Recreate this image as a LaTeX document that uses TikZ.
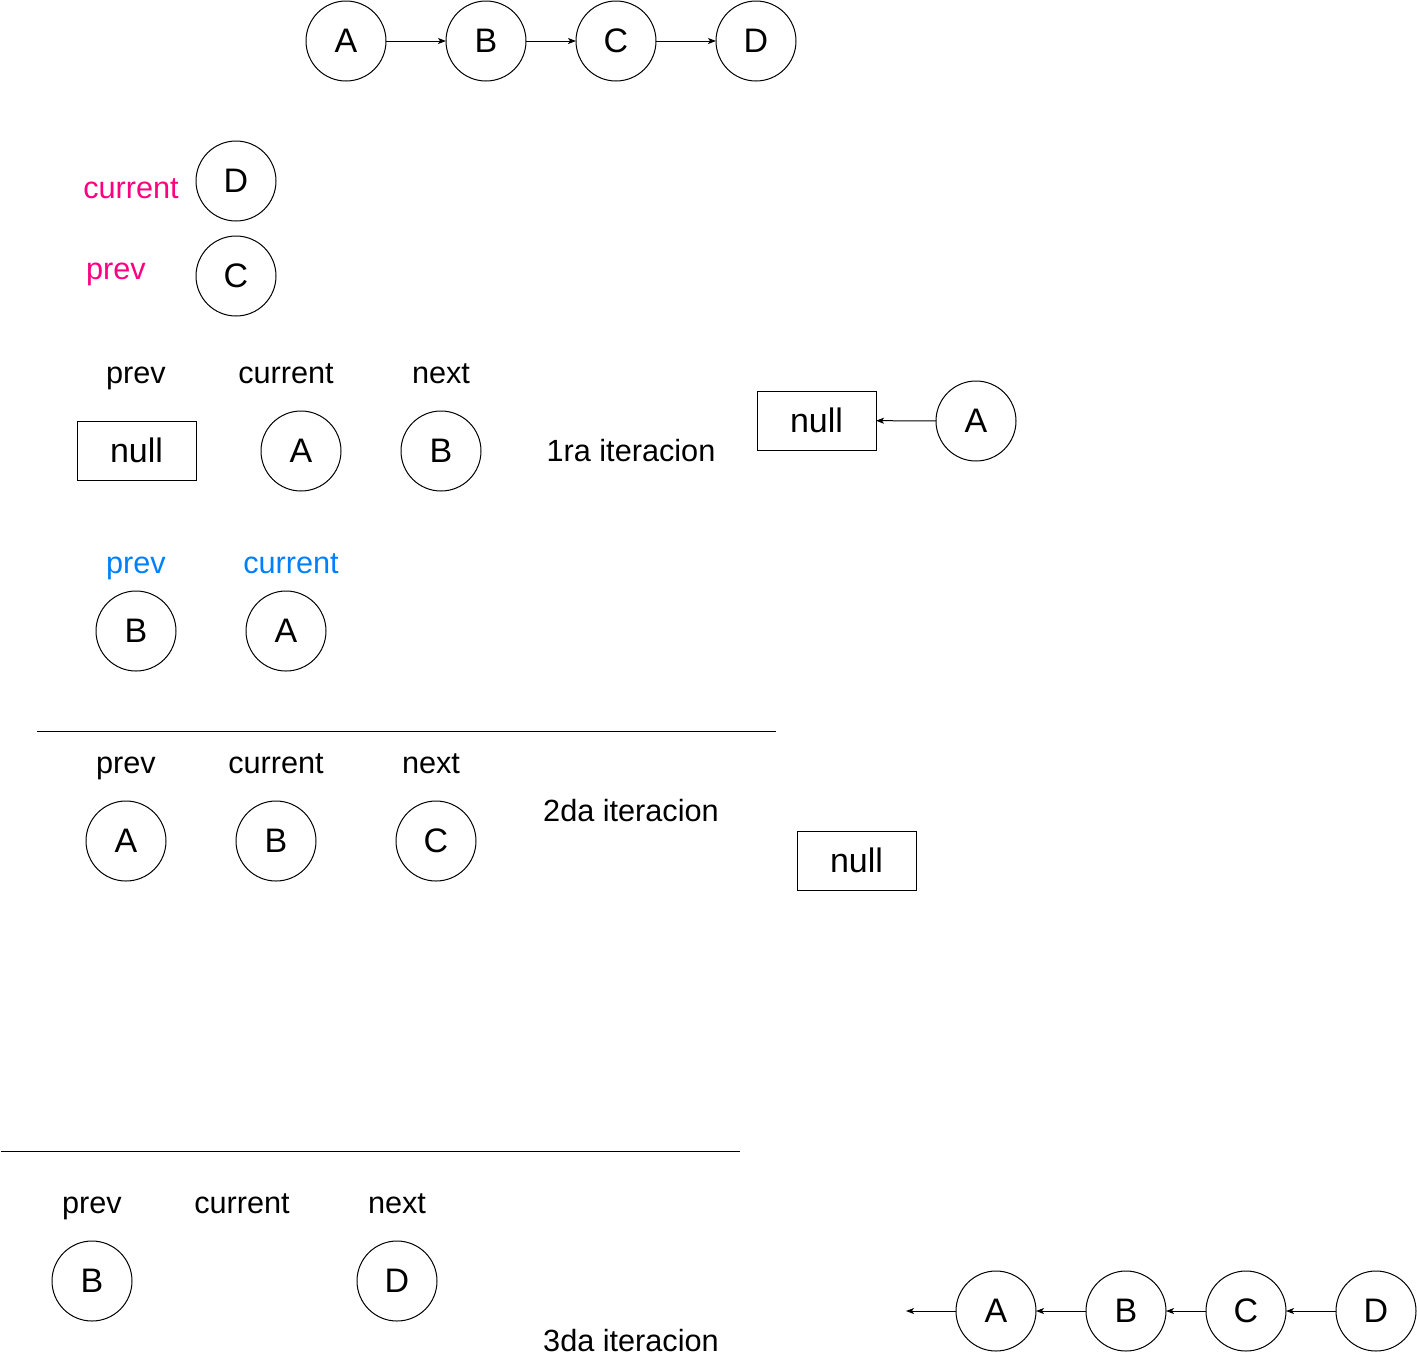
\documentclass[tikz,border=0pt]{standalone}
\usepackage{fontspec}
\setmainfont{Liberation Sans}
\usetikzlibrary{arrows.meta}
\definecolor{pinklbl}{HTML}{FF0080}
\definecolor{bluelbl}{HTML}{007FFF}
\begin{document}
\begin{tikzpicture}[x=0.75pt,y=-0.75pt,
  every node/.style={inner sep=0pt,outer sep=0pt},
  circ/.style={draw,circle,minimum size=60pt,line width=0.75pt,font=\fontsize{25.5}{30}\selectfont},
  nullbox/.style={draw,rectangle,minimum width=89.25pt,minimum height=44.25pt,line width=0.75pt,font=\fontsize{25.5}{30}\selectfont},
  lbl/.style={font=\fontsize{23}{27}\selectfont,text height=15.5pt,text depth=0pt},
  conn/.style={line width=0.75pt,-{Stealth[length=6pt,width=4.5pt,inset=1.5pt]}},
  sep/.style={line width=0.75pt}]
\useasboundingbox (0,0) rectangle (1417,1361);

% top list
\node[circ] (tA) at (346,41) {A};
\node[circ] (tB) at (486,41) {B};
\node[circ] (tC) at (616,41) {C};
\node[circ] (tD) at (756,41) {D};
\draw[conn] (tA) -- (tB);
\draw[conn] (tB) -- (tC);
\draw[conn] (tC) -- (tD);

% pink labels
\node[lbl,text=pinklbl] (pcur) at (131,188) {current};
\node[circ] (pD) at (236,181) {D};
\node[lbl,text=pinklbl] (pprev) at (116,269) {prev};
\node[circ] (pC) at (236,276) {C};

% 1ra iteracion
\node[lbl] (l1prev) at (136,373) {prev};
\node[lbl] (l1cur) at (286,373) {current};
\node[lbl] (l1next) at (441,373) {next};
\node[nullbox] (n1) at (136.5,450.5) {null};
\node[circ] (i1A) at (301,451) {A};
\node[circ] (i1B) at (441,451) {B};
\node[lbl] (it1) at (631,451) {1ra iteracion};
\node[nullbox] (n2) at (816.5,420.5) {null};
\node[circ] (rA) at (976,421) {A};
\draw[conn] (rA) -- (n2);

% blue labels
\node[lbl,text=bluelbl] (bprev) at (136,563) {prev};
\node[lbl,text=bluelbl] (bcur) at (291,563) {current};
\node[circ] (bB) at (136,631) {B};
\node[circ] (bA) at (286,631) {A};

% separator 1
\coordinate (s1a) at (37,731);
\coordinate (s1b) at (776,731);
\draw[sep] (s1a) -- (s1b);

% 2da iteracion
\node[lbl] (l2prev) at (126,763) {prev};
\node[lbl] (l2cur) at (276,763) {current};
\node[lbl] (l2next) at (431,763) {next};
\node[circ] (i2A) at (126,841) {A};
\node[circ] (i2B) at (276,841) {B};
\node[circ] (i2C) at (436,841) {C};
\node[lbl] (it2) at (631,811) {2da iteracion};
\node[nullbox] (n3) at (856.5,860.5) {null};

% separator 2
\coordinate (s2a) at (1,1151);
\coordinate (s2b) at (740,1151);
\draw[sep] (s2a) -- (s2b);

% 3da iteracion
\node[lbl] (l3prev) at (92,1203) {prev};
\node[lbl] (l3cur) at (242,1203) {current};
\node[lbl] (l3next) at (397,1203) {next};
\node[circ] (i3B) at (92,1281) {B};
\node[circ] (i3D) at (397,1281) {D};
\node[lbl] (it3) at (631,1341) {3da iteracion};

% reversed list
\node[circ] (fA) at (996,1311) {A};
\node[circ] (fB) at (1126,1311) {B};
\node[circ] (fC) at (1246,1311) {C};
\node[circ] (fD) at (1376,1311) {D};
\coordinate (fend) at (906,1311);
\draw[conn] (fA) -- (fend);
\draw[conn] (fB) -- (fA);
\draw[conn] (fC) -- (fB);
\draw[conn] (fD) -- (fC);
\end{tikzpicture}
\end{document}
